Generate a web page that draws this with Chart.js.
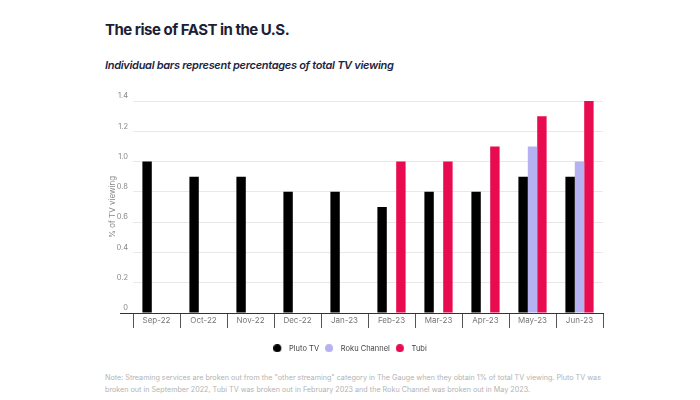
<!DOCTYPE html>
<html>
<head>
<meta charset="utf-8">
<script src="https://cdn.jsdelivr.net/npm/chart.js@4"></script>
<style>
  html, body { margin: 0; padding: 0; background: #fff; }
  body { width: 700px; height: 400px; position: relative; overflow: hidden; font-family: Inter, "Noto Sans", sans-serif; }
  #title { position: absolute; left: 105px; top: 20px; font-size: 15px; font-weight: 700; color: #1b2135; letter-spacing: -0.5px; white-space: nowrap; }
  #subtitle { position: absolute; left: 105px; top: 58px; font-size: 11px; font-weight: 600; font-style: italic; color: #1b2540; letter-spacing: -0.3px; white-space: nowrap; }
  #note { position: absolute; left: 105px; top: 372px; font-size: 7.2px; line-height: 12px; color: #b3b3b3; width: 600px; }
  #wrap { position: absolute; left: 0; top: 0; width: 700px; height: 362px; }
</style>
</head>
<body>
<div id="title">The rise of FAST in the U.S.</div>
<div id="subtitle">Individual bars represent percentages of total TV viewing</div>
<div id="wrap"><canvas id="c"></canvas></div>
<div id="note">Note: Streaming services are broken out from the "other streaming" category in The Gauge when they obtain 1% of total TV viewing. Pluto TV was<br>broken out in September 2022, Tubi TV was broken out in February 2023 and the Roku Channel was broken out in May 2023.</div>
<script>
const categories = ["Sep-22", "Oct-22", "Nov-22", "Dec-22", "Jan-23", "Feb-23", "Mar-23", "Apr-23", "May-23", "Jun-23"];
const plutoTV = [1.0, 0.9, 0.9, 0.8, 0.8, 0.7, 0.8, 0.8, 0.9, 0.9];
const rokuChannel = [null, null, null, null, null, null, null, null, 1.1, 1.0];
const tubi = [null, null, null, null, null, 1.0, 1.0, 1.1, 1.3, 1.4];
const yTicks = [0, 0.2, 0.4, 0.6, 0.8, 1.0, 1.2, 1.4];
const seriesNames = ["Pluto TV", "Roku Channel", "Tubi"];

const colors = ["#000000", "#b6b2f1", "#e80b4f"];

// legend marker: circle at the left of a small canvas
function dot(color) {
  const c = document.createElement("canvas");
  c.width = 12; c.height = 8;
  const g = c.getContext("2d");
  g.fillStyle = color;
  g.beginPath();
  g.arc(4, 4, 4, 0, Math.PI * 2);
  g.fill();
  return c;
}

new Chart(document.getElementById("c"), {
  type: "bar",
  data: {
    labels: categories,
    datasets: [
      { label: seriesNames[0], data: plutoTV, backgroundColor: colors[0], pointStyle: dot(colors[0]) },
      { label: seriesNames[1], data: rokuChannel, backgroundColor: colors[1], pointStyle: dot(colors[1]) },
      { label: seriesNames[2], data: tubi, backgroundColor: colors[2], pointStyle: dot(colors[2]) }
    ]
  },
  options: {
    responsive: true,
    maintainAspectRatio: false,
    animation: false,
    layout: { padding: { left: 97, right: 97, top: 101, bottom: 0 } },
    datasets: { bar: { categoryPercentage: 0.6, barPercentage: 1.0 } },
    plugins: {
      legend: {
        position: "bottom",
        labels: {
          usePointStyle: true,
          pointStyleWidth: 12,
          boxHeight: 8,
          padding: 6,
          color: "#444",
          font: { family: "Inter", size: 7.5 }
        }
      },
      tooltip: { enabled: false }
    },
    scales: {
      x: {
        grid: {
          offset: true,
          drawOnChartArea: false,
          drawTicks: true,
          tickLength: 15,
          tickColor: "#555"
        },
        border: { display: true, color: "#333", width: 1 },
        ticks: {
          color: "#777",
          font: { family: "Inter", size: 8 },
          padding: -12,
          maxRotation: 0,
          autoSkip: false
        },
        afterFit: (s) => { s.height = 25.5; }
      },
      y: {
        min: 0,
        max: 1.4,
        afterBuildTicks: (axis) => { axis.ticks = yTicks.map(v => ({ value: v })); },
        afterFit: (s) => { s.width = 36; },
        grid: {
          color: (ctx) => ctx.tick && ctx.tick.value === 0 ? "#333" : "#e8e8e8",
          tickColor: (ctx) => ctx.tick && ctx.tick.value === 0 ? "#333" : "rgba(0,0,0,0)",
          tickLength: 13,
          drawTicks: true
        },
        border: { display: false },
        ticks: {
          color: "#888",
          font: { family: "Inter", size: 7.5 },
          padding: -8,
          labelOffset: -5,
          callback: (v) => v === 0 ? "0" : Number(v).toFixed(1)
        },
        title: {
          display: true,
          text: "% of TV viewing",
          color: "#888",
          font: { family: "Inter", size: 8 },
          padding: { top: 11, bottom: 0 }
        }
      }
    }
  }
});
</script>
</body>
</html>
